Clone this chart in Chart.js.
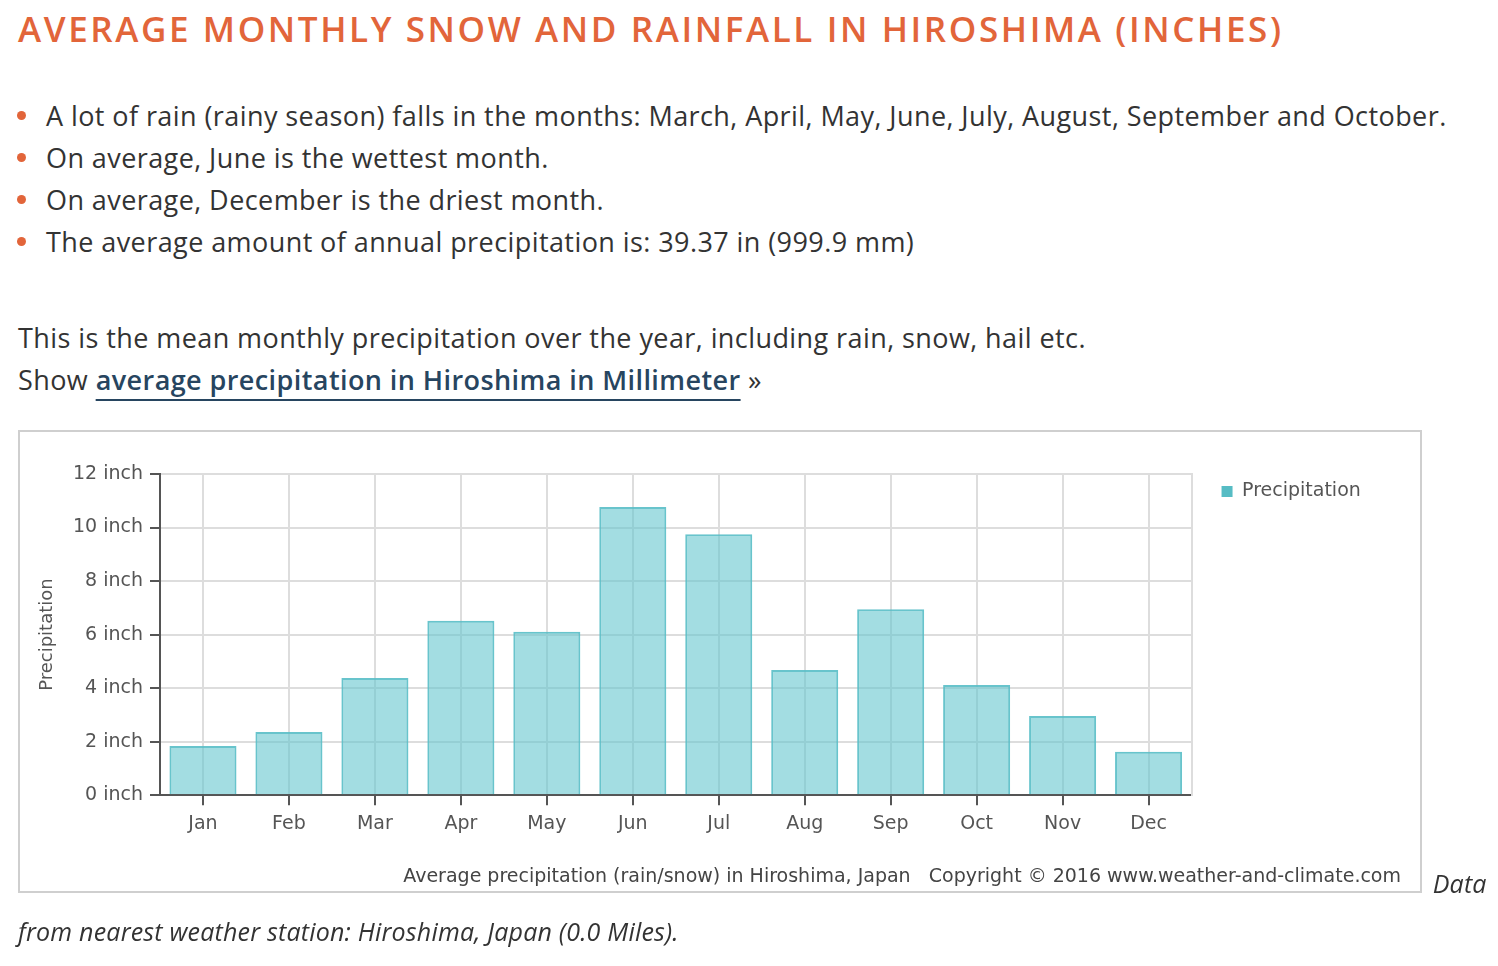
<!DOCTYPE html>
<html>
<head>
<meta charset="utf-8">
<script src="https://cdn.jsdelivr.net/npm/chart.js@4.4.1/dist/chart.umd.min.js"></script>
<style>
    body { margin: 0; font-family: 'Open Sans', sans-serif; color: #333; background: #fff; }
    .page { padding-left: 18px; }
    h1 { margin: 9px 0 0; font-size: 35px; line-height: 40px; font-weight: 600; color: #e2653a; letter-spacing: 2.6px; }
    ul { list-style: none; margin: 46px 0 0; padding: 0; }
    li { font-size: 27px; line-height: 42px; letter-spacing: 0.42px; padding-left: 28px; position: relative; }
    li::before { content: ''; position: absolute; left: -1px; top: 16px; width: 9px; height: 9px; border-radius: 50%; background: #e2653a; }
    p.desc { margin: 54px 0 0; font-size: 27px; line-height: 42px; letter-spacing: 0.42px; }
    p.desc a { color: #274560; font-weight: 600; text-decoration: underline; text-decoration-thickness: 2px; text-underline-offset: 9px; text-decoration-skip-ink: none; }
    p.source { margin: 29px 0 0; font-size: 25px; line-height: 48px; letter-spacing: 0.2px; font-style: italic; }
    .chart-box { display: inline-block; border: 2px solid #cfcfcf; width: 1400px; height: 459px; margin-right: 4px; vertical-align: baseline; letter-spacing: 0; }
    .chart-box canvas { display: block; }
</style>
</head>
<body>
<div class="page">
    <h1>AVERAGE MONTHLY SNOW AND RAINFALL IN HIROSHIMA (INCHES)</h1>
    <ul>
        <li>A lot of rain (rainy season) falls in the months: March, April, May, June, July, August, September and October.</li>
        <li>On average, June is the wettest month.</li>
        <li>On average, December is the driest month.</li>
        <li>The average amount of annual precipitation is: 39.37 in (999.9 mm)</li>
    </ul>
    <p class="desc">This is the mean monthly precipitation over the year, including rain, snow, hail etc.<br>Show <a href="#">average precipitation in Hiroshima in Millimeter</a> »</p>
    <p class="source"><span class="chart-box"><canvas id="precip" width="1400" height="459"></canvas></span> Data from nearest weather station: Hiroshima, Japan (0.0 Miles).</p>
</div>
<script>
// DATA
const months = ['Jan', 'Feb', 'Mar', 'Apr', 'May', 'Jun', 'Jul', 'Aug', 'Sep', 'Oct', 'Nov', 'Dec'];
const precipitation = [1.84, 2.36, 4.38, 6.52, 6.11, 10.77, 9.75, 4.68, 6.95, 4.12, 2.96, 1.62];
const yTicks = [0, 2, 4, 6, 8, 10, 12];
const seriesLabel = 'Precipitation';
const axisTitle = 'Precipitation';
const footerText = 'Average precipitation (rain/snow) in Hiroshima, Japan   Copyright \u00A9 2016 www.weather-and-climate.com';

// STYLE
const gridColor = '#dddddd';
const axisColor = '#555555';
const textColor = '#555555';

Chart.defaults.font.family = "'DejaVu Sans', sans-serif";
Chart.defaults.font.size = 19;
Chart.defaults.color = textColor;

// CHART SETUP
const chart = new Chart(
    document.getElementById('precip'),
    {
        type: 'bar',
        data: {
            labels: months,
            datasets: [{
                label: seriesLabel,
                data: precipitation,
                backgroundColor: 'rgba(102, 198, 207, 0.6)',
                borderColor: 'rgba(88, 190, 198, 0.9)',
                borderWidth: 2,
                barPercentage: 0.78,
                categoryPercentage: 1
            }]
        },
        options: {
            responsive: false,
            animation: false,
            layout: { padding: { top: 42, right: 19, bottom: 0, left: 0 } },
            scales: {
                x: {
                    grid: { offset: false, color: gridColor, lineWidth: 2, tickColor: axisColor, tickLength: 10 },
                    border: { color: axisColor, width: 2 },
                    ticks: { padding: 7 },
                    afterFit: function (scale) { scale.height = 40; }
                },
                y: {
                    min: 0,
                    max: 12,
                    afterBuildTicks: function (scale) {
                        scale.ticks = yTicks.map(v => ({ value: v }));
                    },
                    ticks: {
                        padding: 7,
                        callback: function (value) { return value + ' inch'; }
                    },
                    grid: { color: gridColor, lineWidth: 2, tickColor: axisColor, tickLength: 10 },
                    border: { color: axisColor, width: 2 },
                    title: { display: true, text: axisTitle, font: { size: 18 }, padding: { top: 17, bottom: 0 } },
                    afterFit: function (scale) { scale.width = 140; }
                },
                y2: {
                    position: 'right',
                    min: 0,
                    max: 12,
                    ticks: { display: false },
                    grid: { display: false },
                    border: { color: gridColor, width: 2 },
                    afterFit: function (scale) { scale.width = 22; }
                }
            },
            plugins: {
                legend: {
                    position: 'right',
                    align: 'start',
                    labels: {
                        boxWidth: 11,
                        boxHeight: 11,
                        padding: 8,
                        generateLabels: function (c) {
                            return c.data.datasets.map((ds, i) => ({
                                text: ds.label + '     ',
                                fillStyle: '#56bcc4',
                                strokeStyle: '#56bcc4',
                                lineWidth: 0,
                                fontColor: textColor,
                                datasetIndex: i
                            }));
                        }
                    }
                },
                title: {
                    display: true,
                    position: 'bottom',
                    align: 'end',
                    text: footerText,
                    color: '#444',
                    font: { size: 19, weight: 'normal' },
                    padding: { top: 30, bottom: 3 }
                },
                tooltip: { enabled: false }
            }
        }
    }
);
</script>
</body>
</html>
